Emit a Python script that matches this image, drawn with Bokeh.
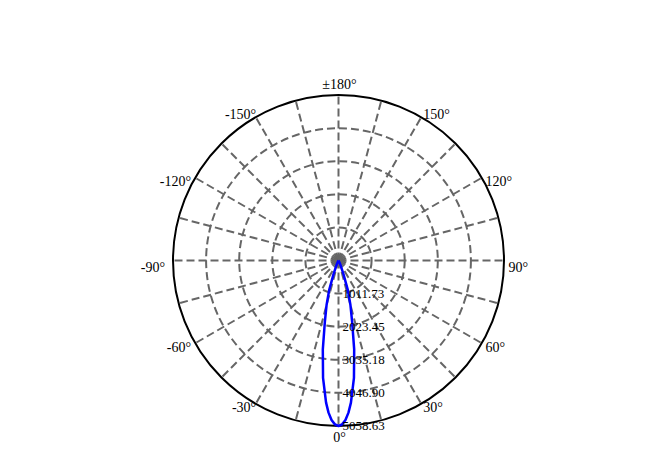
import numpy as np
from bokeh.plotting import figure
from bokeh.models import Range1d, ColumnDataSource
from bokeh.core.properties import value
from bokeh.embed import file_html
from bokeh.resources import INLINE

# ---- data ----
beam_angles = [0, 1.25, 2.5, 3.75, 5, 7.5, 10, 12.5, 15, 17.5, 20, 22.5, 25, 27.5, 30, 35, 40, 60, 90, 120, 150, 180]
beam_values = [5058.63, 5010, 4880, 4660, 4360, 3620, 2760, 1930, 1410, 950, 450, 200, 85, 35, 15, 3, 0, 0, 0, 0, 0, 0]
ring_labels = ["1011.73", "2023.45", "3035.18", "4046.90", "5058.63"]
angle_ticks = [0, 30, 60, 90, 120, 150, 180, -150, -120, -90, -60, -30]
angle_labels = ["0°", "30°", "60°", "90°", "120°", "150°", "±180°", "-150°", "-120°", "-90°", "-60°", "-30°"]
spoke_angles = list(range(0, 360, 15))

# ---- layout ----
W, H = 660, 454
PX = 165.5            # pixels per unit radius
CX, CY = 338, 260     # centre in figure pixels
R = 1.0
imax = max(beam_values)

p = figure(width=W, height=H, output_backend="svg", toolbar_location=None,
           x_range=Range1d(-CX / PX, (W - CX) / PX),
           y_range=Range1d(-(H - CY) / PX, CY / PX),
           min_border=0, outline_line_color=None)
p.axis.visible = False
p.grid.visible = False
p.background_fill_color = "white"
p.border_fill_color = "white"

grid_col = "#666666"
dash = "8 4"

# spokes
sa = np.radians(spoke_angles)
p.segment(x0=np.zeros(len(sa)), y0=np.zeros(len(sa)), x1=R * np.sin(sa), y1=-R * np.cos(sa),
          line_color=grid_col, line_width=2, line_dash=dash)

# grid rings
n = len(ring_labels)
ring_r = [R * (k + 1) / n for k in range(n)]
p.circle(x=[0] * (n - 1), y=[0] * (n - 1), radius=ring_r[:-1], fill_color=None,
         line_color=grid_col, line_width=2, line_dash=dash)
# outer ring
p.circle(x=[0], y=[0], radius=[R], fill_color=None, line_color="black", line_width=2)

# beam curve (symmetric)
ang = np.array(beam_angles, dtype=float)
val = np.array(beam_values, dtype=float)
full_ang = np.concatenate([-ang[::-1], ang[1:]])
full_val = np.concatenate([val[::-1], val[1:]])
rr = full_val / imax * R
th = np.radians(full_ang)
p.line(rr * np.sin(th), -rr * np.cos(th), line_color="#0000ff", line_width=2.5,
       line_join="round")

font = value("Liberation Serif")

# ring value labels
p.text(x=[0] * n, y=[-r for r in ring_r], text=ring_labels, x_offset=4,
       text_align="left", text_baseline="middle", text_font=font,
       text_font_size="13px", text_color="black")

# angle labels
groups = {"bottom0": [], "top": [], "pos": [], "neg": []}
for a, lab in zip(angle_ticks, angle_labels):
    t = np.radians(a)
    x, y = R * np.sin(t), -R * np.cos(t)
    s2 = np.sin(t) ** 2
    if abs(a) == 150:
        yo = -3
    elif abs(a) == 90:
        yo = 7
    else:
        yo = 4
    if a == 0:
        groups["bottom0"].append((x, y, lab, 1, 4))
    elif abs(a) == 180:
        groups["top"].append((x, y, lab, 1, -3))
    elif a > 0:
        groups["pos"].append((x, y, lab, 1 + 3.5 * s2, yo))
    else:
        groups["neg"].append((x, y, lab, -(-1 + 9 * s2 ** 2), yo))

styles = {
    "bottom0": dict(text_align="center", text_baseline="top"),
    "top": dict(text_align="center", text_baseline="bottom"),
    "pos": dict(text_align="left", text_baseline="middle"),
    "neg": dict(text_align="right", text_baseline="middle"),
}
for key, items in groups.items():
    if not items:
        continue
    xs, ys, labs, xo, yo = zip(*items)
    src = ColumnDataSource(dict(x=list(xs), y=list(ys), t=list(labs), xo=list(xo), yo=list(yo)))
    p.text(x="x", y="y", text="t", x_offset="xo", y_offset="yo", source=src,
           text_font=font, text_font_size="14px", text_color="black", **styles[key])

open("out.html", "w").write(file_html(p, INLINE))
